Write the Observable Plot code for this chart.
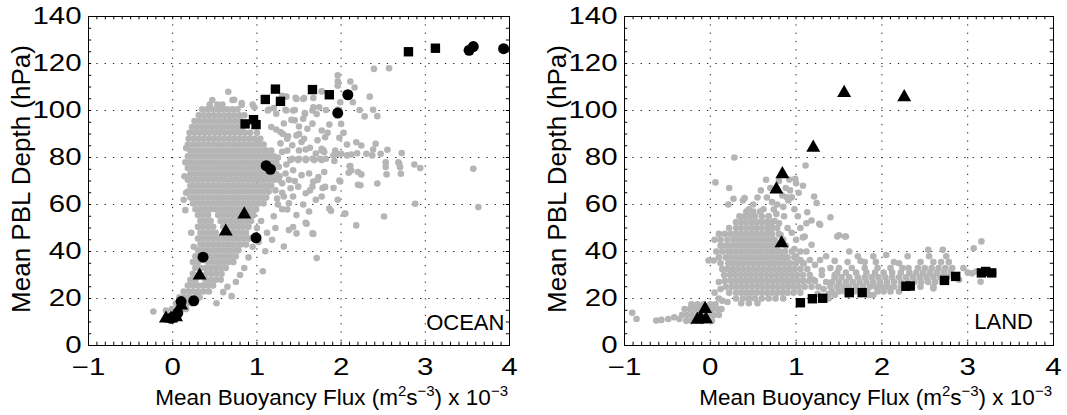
<!DOCTYPE html>
<html>
<head>
<meta charset="utf-8">
<script src="https://cdn.jsdelivr.net/npm/d3@7"></script>
<script src="https://cdn.jsdelivr.net/npm/@observablehq/plot@0.6"></script>
<style>
  body { margin: 0; background: #fff; }
  #c { display: flex; width: 1067px; height: 415px; overflow: hidden; }
  svg { display: block; }
</style>
</head>
<body>
<div id="c"></div>
<script>
// ---------- tick values ----------
const xMajor = [-1, 0, 1, 2, 3, 4];
const yMajor = [0, 20, 40, 60, 80, 100, 120, 140];
const xMinor = d3.range(-1, 4.001, 0.1);
const yMinor = d3.range(0, 140.1, 5);

// ---------- text ----------
const yLabelText = "Mean PBL Depth (hPa)";
const xLabelParts = [["Mean Buoyancy Flux (m", 0], ["2", 1], ["s", 0], ["\u22123", 1], [") x 10", 0], ["\u22123", 1]];
const regionNames = ["OCEAN", "LAND"];

// ---------- OCEAN: grey points, dense rows [y, [x...]] ----------
const oceanRows = [
  [104.5, [0.47, 0.71]],
  [102.5, [0.44, 0.53, 0.59, 0.82, 0.95]],
  [100.5, [0.35, 0.41, 0.47, 0.53, 0.59, 0.65, 0.71, 0.77]],
  [98, [0.31, 0.37, 0.43, 0.49, 0.55, 0.61, 0.67, 0.73, 0.79, 0.85]],
  [95.5, [0.26, 0.32, 0.38, 0.44, 0.5, 0.56, 0.62, 0.68, 0.74, 0.8]],
  [93, [0.23, 0.29, 0.35, 0.41, 0.47, 0.53, 0.59, 0.65, 0.71, 0.77, 0.83]],
  [90.5, [0.2, 0.26, 0.32, 0.38, 0.44, 0.5, 0.56, 0.62, 0.68, 0.74, 0.8, 0.86, 0.92, 1.0]],
  [88, [0.19, 0.25, 0.31, 0.37, 0.43, 0.49, 0.55, 0.61, 0.67, 0.73, 0.79, 0.85, 0.91, 0.97, 1.04]],
  [85.5, [0.18, 0.24, 0.3, 0.36, 0.42, 0.48, 0.54, 0.6, 0.66, 0.72, 0.78, 0.84, 0.9, 0.96, 1.02, 1.08]],
  [83, [0.21, 0.27, 0.33, 0.39, 0.45, 0.51, 0.57, 0.63, 0.69, 0.75, 0.81, 0.87, 0.93, 0.99, 1.05, 1.11, 1.17]],
  [80.5, [0.18, 0.24, 0.3, 0.36, 0.42, 0.48, 0.54, 0.6, 0.66, 0.72, 0.78, 0.84, 0.9, 0.96, 1.02, 1.08, 1.14, 1.2]],
  [78, [0.21, 0.27, 0.33, 0.39, 0.45, 0.51, 0.57, 0.63, 0.69, 0.75, 0.81, 0.87, 0.93, 0.99, 1.05, 1.11, 1.17, 1.23]],
  [75.5, [0.18, 0.24, 0.3, 0.36, 0.42, 0.48, 0.54, 0.6, 0.66, 0.72, 0.78, 0.84, 0.9, 0.96, 1.02, 1.08, 1.14, 1.2]],
  [73, [0.21, 0.27, 0.33, 0.39, 0.45, 0.51, 0.57, 0.63, 0.69, 0.75, 0.81, 0.87, 0.93, 0.99, 1.05, 1.11, 1.17, 1.23]],
  [70.5, [0.18, 0.24, 0.3, 0.36, 0.42, 0.48, 0.54, 0.6, 0.66, 0.72, 0.78, 0.84, 0.9, 0.96, 1.02, 1.08, 1.14, 1.2, 1.26]],
  [68, [0.21, 0.27, 0.33, 0.39, 0.45, 0.51, 0.57, 0.63, 0.69, 0.75, 0.81, 0.87, 0.93, 0.99, 1.05, 1.11, 1.17]],
  [65.5, [0.18, 0.24, 0.3, 0.36, 0.42, 0.48, 0.54, 0.6, 0.66, 0.72, 0.78, 0.84, 0.9, 0.96, 1.02, 1.08, 1.14]],
  [63, [0.21, 0.27, 0.33, 0.39, 0.45, 0.51, 0.57, 0.63, 0.69, 0.75, 0.81, 0.87, 0.93, 0.99, 1.05, 1.11]],
  [60.5, [0.24, 0.3, 0.36, 0.42, 0.48, 0.54, 0.6, 0.66, 0.72, 0.78, 0.84, 0.9, 0.96, 1.02, 1.08]],
  [58, [0.27, 0.33, 0.39, 0.45, 0.51, 0.57, 0.63, 0.69, 0.75, 0.81, 0.87, 0.93, 0.99]],
  [55.5, [0.3, 0.36, 0.42, 0.54, 0.6, 0.66, 0.72, 0.78, 0.9, 0.96]],
  [53, [0.33, 0.39, 0.45, 0.57, 0.63, 0.69, 0.75, 0.81, 0.87, 0.93]],
  [50.5, [0.3, 0.36, 0.42, 0.48, 0.6, 0.66, 0.72, 0.78, 0.84, 0.9]],
  [48, [0.33, 0.39, 0.45, 0.51, 0.69, 0.75, 0.81, 0.87]],
  [45.5, [0.3, 0.36, 0.42, 0.48, 0.54, 0.6, 0.66, 0.72, 0.78, 0.84, 0.9]],
  [43, [0.33, 0.39, 0.45, 0.51, 0.57, 0.63, 0.69, 0.75, 0.81, 0.87]],
  [40.5, [0.3, 0.36, 0.42, 0.48, 0.54, 0.6, 0.66, 0.72, 0.78]],
  [38, [0.27, 0.45, 0.51, 0.57, 0.63, 0.69, 0.75]],
  [35.5, [0.24, 0.3, 0.42, 0.48, 0.54, 0.6, 0.66, 0.72]],
  [33, [0.27, 0.33, 0.39, 0.45, 0.51, 0.57, 0.63]],
  [30.5, [0.24, 0.4, 0.46, 0.52, 0.58]],
  [28, [0.21, 0.27, 0.39, 0.45, 0.51, 0.57]],
  [25.5, [0.18, 0.24, 0.3, 0.36, 0.42, 0.48]],
  [23, [0.13, 0.19, 0.25, 0.31, 0.37, 0.43]],
  [20.5, [0.08, 0.14, 0.2, 0.32]],
  [18, [0.04, 0.16, 0.22]],
  [15.5, [-0.01, 0.05, 0.11, 0.16]],
  [13, [-0.05, 0.01, 0.07]]
];
// OCEAN: scattered grey points [x, y]
const oceanScatter = [
  [0.15, 78], [0.14, 72], [0.16, 65], [0.16, 84], [0.15, 57.6], [0.22, 48], [0.25, 42], [0.13, 62],
  [2.39, 117.7], [2.57, 118], [1.96, 115], [1.96, 112.4], [1.96, 110.5], [2.16, 109.8], [2.11, 112.3],
  [1.77, 108.1], [1.56, 105.3], [1.67, 105.3], [1.47, 104.9], [1.35, 105.9], [2.34, 105.9], [1.99, 103.5],
  [2.14, 103.5], [0.66, 108], [0.73, 104.6], [0.82, 103.2], [0.58, 101], [0.97, 101.4], [1.14, 100.4],
  [1.2, 101], [1.35, 100], [1.45, 100.2], [1.57, 98.5], [1.67, 101.4], [1.71, 98.5], [1.82, 100.2],
  [1.96, 100.4], [2.22, 100.2], [2.28, 97.5], [2.38, 100.3], [2.43, 97.6], [2.0, 94.3], [1.86, 94],
  [1.84, 90.5], [1.81, 88.6], [1.41, 96], [1.5, 93.2], [1.6, 92.2], [1.5, 90], [1.56, 88], [1.23, 91.9],
  [1.31, 90], [1.37, 89], [2.03, 90.5], [1.98, 88.4], [1.63, 84.1], [1.77, 83.7], [1.91, 80.9], [2.0, 81.6],
  [2.07, 85.5], [2.18, 86.5], [2.24, 85.1], [2.3, 81.6], [2.38, 83.4], [2.41, 85.8], [2.55, 83.3], [1.93, 83],
  [1.95, 81.6], [2.07, 80.9], [2.12, 81.3], [2.19, 81.8], [2.47, 81.6], [2.37, 80.9], [1.92, 78.5], [2.68, 78],
  [2.7, 75.9], [2.71, 73.1], [2.87, 77], [2.69, 77.3], [2.72, 81.9], [2.94, 75.5], [3.57, 75.2], [2.53, 78],
  [2.53, 76], [2.54, 72.8], [2.11, 76.4], [2.12, 74.5], [2.2, 73.8], [2.24, 72.8], [2.43, 68.9], [2.2, 68.4],
  [2.23, 68.2], [1.99, 69.8], [1.91, 67], [1.78, 67], [1.8, 73.8], [1.73, 71.7], [1.67, 69.8], [1.63, 66],
  [1.42, 79.5], [1.5, 79.5], [1.58, 79.5], [1.66, 79.5], [1.75, 79.5], [1.82, 79.5], [1.77, 83], [1.8, 82.3],
  [2.88, 60.3], [3.63, 58.9], [1.86, 58.3], [1.88, 57.3], [2.05, 56.2], [2.51, 54.9], [2.18, 51.1], [2.04, 56],
  [1.96, 62], [1.98, 70.2], [2.1, 76.3], [2.09, 73.5], [1.67, 47.5], [1.71, 37.2], [1.59, 51.8], [1.43, 50.4],
  [1.32, 42.1], [1.07, 31.6], [1.1, 40.1], [0.94, 45.8], [0.75, 27], [0.52, 18], [-0.23, 14.5], [-0.08, 14.9],
  [0.18, 18.4], [0.29, 21],
  [1.3, 106.3], [1.46, 105.4], [1.55, 104.9], [1.77, 108.2], [1.13, 100], [1.23, 98.6], [1.34, 100.3],
  [1.43, 100], [1.57, 98.9], [1.66, 100], [1.74, 101.4], [1.45, 95.8], [1.55, 96.5], [1.66, 94.4], [1.77, 91.5],
  [1.72, 87.3], [1.79, 83.1], [1.17, 93], [1.28, 90.8], [1.36, 88], [1.47, 89.4], [1.42, 85.2], [1.53, 86.6],
  [1.58, 83.4], [1.7, 81.7], [1.3, 82.4], [1.4, 78.9], [1.49, 78.9], [1.58, 78.9], [1.68, 78.9], [1.77, 78.9],
  [1.26, 76], [1.34, 73.2], [1.43, 74.6], [1.53, 72.5], [1.62, 73.2], [1.72, 70.4], [1.3, 69], [1.4, 66.9],
  [1.49, 67.6], [1.58, 64.8], [1.66, 67.6], [1.77, 63.4], [1.32, 63.4], [1.43, 63.4],
  [1.28, 86], [1.32, 94.5], [1.25, 80], [1.38, 70.5], [1.35, 77], [1.27, 72], [1.36, 83], [1.22, 66],
  [1.3, 65], [1.24, 62.5], [1.38, 60.5], [1.45, 70], [1.5, 83],
  [1.3, 58], [1.36, 57.9], [1.47, 55.5], [1.38, 49.1], [1.47, 47.7], [1.58, 52.2], [1.66, 47.7], [1.2, 55],
  [1.25, 60], [1.55, 60], [1.62, 57], [1.7, 62], [1.81, 67.5], [0.9, 37.5], [0.6, 22.7], [1.0, 50], [1.05, 53],
  [1.12, 48], [0.95, 42], [1.02, 44], [1.22, 50], [1.18, 45], [0.85, 33], [0.8, 30], [0.65, 25], [0.7, 21]
];
const oceanSquares = [[2.8, 125], [3.12, 126.5], [1.1, 104.7], [1.22, 109.1], [1.28, 103.9], [1.66, 108.9],
  [1.86, 106.7], [0.86, 94.3], [0.96, 96.1], [0.99, 94]];
const oceanCircles = [[3.52, 125.6], [3.57, 127.2], [3.93, 126.3], [2.08, 106.7], [1.96, 98.9], [1.11, 76.5],
  [1.16, 75], [0.99, 45.8], [0.36, 37.6], [0.25, 19], [0.1, 18.7], [0.06, 13.8], [0.02, 12.2], [-0.02, 11.6]];
const oceanTriangles = [[0.85, 55.8], [0.63, 48.5], [0.32, 29.8], [0.1, 17], [-0.08, 11.5], [-0.02, 11.5], [0.04, 12]];

// ---------- LAND: grey points ----------
const landRows = [
  [57, [0.42, 0.5, 0.58]],
  [55, [0.34, 0.4, 0.46, 0.52, 0.6, 0.68]],
  [52.5, [0.3, 0.36, 0.42, 0.48, 0.54, 0.6, 0.66, 0.72]],
  [50, [0.22, 0.3, 0.36, 0.42, 0.48, 0.54, 0.6, 0.66, 0.72, 0.78]],
  [47.5, [0.1, 0.17, 0.24, 0.3, 0.36, 0.42, 0.48, 0.54, 0.6, 0.66, 0.72, 0.8]],
  [45, [0.05, 0.12, 0.2, 0.27, 0.33, 0.39, 0.45, 0.51, 0.57, 0.63, 0.69, 0.75, 0.85]],
  [42.5, [0.12, 0.18, 0.24, 0.3, 0.36, 0.42, 0.48, 0.54, 0.6, 0.66, 0.72, 0.78, 0.88]],
  [40, [0.14, 0.21, 0.27, 0.33, 0.39, 0.45, 0.51, 0.57, 0.63, 0.69, 0.75, 0.81, 0.87, 0.95]],
  [37.5, [0.1, 0.18, 0.24, 0.3, 0.36, 0.42, 0.48, 0.54, 0.6, 0.66, 0.72, 0.78, 0.84, 0.9, 0.98]],
  [35, [0.12, 0.21, 0.27, 0.33, 0.39, 0.45, 0.51, 0.57, 0.63, 0.69, 0.75, 0.81, 0.87, 0.93, 1.0, 1.08]],
  [32.5, [0.14, 0.2, 0.26, 0.32, 0.38, 0.44, 0.5, 0.56, 0.62, 0.68, 0.74, 0.8, 0.86, 0.92, 0.98, 1.05, 1.13]],
  [30, [0.16, 0.23, 0.29, 0.35, 0.41, 0.47, 0.53, 0.59, 0.65, 0.71, 0.77, 0.83, 0.89, 0.95, 1.01, 1.08, 1.16]],
  [27.5, [0.17, 0.24, 0.3, 0.36, 0.42, 0.48, 0.54, 0.6, 0.66, 0.72, 0.78, 0.84, 0.9, 0.96, 1.02, 1.08, 1.15, 1.22]],
  [25, [0.18, 0.25, 0.31, 0.37, 0.43, 0.49, 0.55, 0.61, 0.67, 0.73, 0.79, 0.85, 0.91, 0.97, 1.03, 1.1, 1.18, 1.26]],
  [22.5, [0.22, 0.3, 0.36, 0.42, 0.48, 0.54, 0.6, 0.66, 0.72, 0.78, 0.84, 0.9, 0.97, 1.05]],
  [20, [0.3, 0.38, 0.45, 0.52, 0.6, 0.68, 0.76, 0.85]],
  [18, [0.36, 0.45, 0.55]],
  [17.5, [-0.22, -0.15, -0.08, 0.0, 0.06]],
  [15.5, [-0.3, -0.24, -0.18, -0.12, -0.05, 0.02, 0.08, 0.13]],
  [13, [-0.33, -0.27, -0.21, -0.15, -0.08, -0.02, 0.04, 0.1]],
  [10.5, [-0.28, -0.22, -0.16, -0.1, -0.04, 0.02]],
  // right-hand band
  [21.5, [1.45, 1.6, 1.85, 1.9]],
  [23, [1.42, 1.5, 1.57, 1.68, 1.83, 1.95, 2.02, 2.1, 2.2]],
  [25, [1.4, 1.48, 1.55, 1.62, 1.7, 1.78, 1.86, 1.93, 2.0, 2.07, 2.14, 2.22, 2.35, 2.45, 2.6]],
  [27, [1.42, 1.5, 1.58, 1.66, 1.74, 1.82, 1.9, 1.98, 2.06, 2.14, 2.22, 2.3, 2.38, 2.46, 2.54, 2.62, 2.7]],
  [29, [1.45, 1.53, 1.62, 1.72, 1.8, 1.88, 1.96, 2.04, 2.12, 2.2, 2.28, 2.36, 2.44, 2.52, 2.6, 2.68, 2.76, 2.84]],
  [31, [1.48, 1.58, 1.7, 1.82, 1.92, 2.02, 2.12, 2.22, 2.32, 2.4, 2.48, 2.56, 2.64, 2.72, 2.8]],
  [33, [1.5, 1.65, 1.8, 1.95, 2.1, 2.24, 2.31, 2.42, 2.5, 2.58, 2.66, 2.74, 2.82]],
  [35.5, [1.6, 1.8, 1.93, 2.14, 2.45, 2.6, 2.69, 2.78]],
  [38, [1.72, 2.3, 2.55, 2.75]]
];
const landScatter = [
  [-0.91, 13.9], [-0.86, 11.3], [-0.63, 10.6], [-0.57, 10.9], [-0.49, 11.3], [-0.42, 12], [-0.36, 11.3],
  [0.1, 20], [0.05, 22.5], [0.12, 24], [-0.02, 36.2], [0.04, 36.2], [0.07, 40], [0.1, 27], [0.14, 19], [0.2, 18.5],
  [0.28, 80], [0.06, 69.4], [0.22, 67], [0.27, 62.4], [0.21, 60], [0.4, 62.7], [0.38, 61.7], [0.65, 70.5],
  [0.59, 66], [0.72, 61], [0.74, 57.9], [0.77, 56], [0.92, 70.6], [0.99, 70.9], [1.0, 69], [0.84, 63.8],
  [0.89, 63.1], [0.91, 61.7], [0.95, 63.1], [1.11, 76.6], [1.08, 68], [1.21, 63.4], [1.24, 60.6], [1.13, 56.7],
  [1.4, 54.6], [1.27, 51.8], [1.48, 46.4], [1.58, 46.4], [1.18, 53.2],
  [0.62, 58], [0.68, 55], [0.8, 52], [0.86, 55], [0.9, 50], [0.95, 48], [0.82, 47], [0.7, 50], [0.98, 58],
  [1.02, 55], [1.05, 50], [0.66, 63], [0.78, 60], [0.85, 59], [0.7, 67], [0.75, 53], [0.88, 67], [0.93, 66],
  [1.03, 65], [0.8, 70], [0.45, 58], [0.5, 60], [0.55, 63], [0.6, 53], [1.0, 45], [1.08, 46], [0.98, 41],
  [1.05, 40], [1.0, 38], [1.12, 40], [1.1, 46.4], [1.18, 42.9], [1.12, 52], [1.28, 51.4],
  [1.05, 36.4], [1.09, 35], [1.16, 36.4], [1.22, 34.3], [1.28, 36.4], [1.3, 30], [1.35, 27], [1.32, 24],
  [1.38, 22], [1.25, 22], [1.3, 32], [1.4, 33], [1.45, 30], [1.38, 20], [1.2, 28], [1.35, 38], [1.45, 36],
  [1.5, 46.9], [1.57, 46.4], [1.62, 40], [1.9, 38], [2.05, 38.5], [2.2, 35], [1.75, 36],
  [2.54, 40.7], [2.71, 40.7], [2.6, 24.3], [3.05, 30.7], [3.15, 27.1], [3.3, 30.7], [3.07, 41.4],
  [3.16, 44.3], [3.0, 31], [2.95, 33], [2.9, 28], [3.1, 31.5]
];
const landTriangles = [[1.56, 107.5], [2.26, 105.7], [1.2, 84.2], [0.84, 72.9], [0.77, 66.4], [0.83, 43.5],
  [-0.06, 15.6], [-0.11, 11.6], [-0.05, 11.2], [-0.15, 11]];
const landSquares = [[1.05, 18.2], [1.19, 19.9], [1.31, 20.1], [1.62, 22.5], [1.77, 22.5], [2.28, 25.2],
  [2.33, 25.3], [2.73, 27.7], [2.86, 29.4], [3.16, 30.9], [3.21, 31.5], [3.28, 30.9]];

// ---------- drawing ----------
const FONT = "'Liberation Sans', Arial, Helvetica, sans-serif";
const toObj = a => a.map(([x, y]) => ({x, y}));

function panel(cfg) {
  const gray = [
    ...cfg.rows.flatMap(([y, xs]) => xs.map(x => ({x, y}))),
    ...toObj(cfg.scatter)
  ];
  const svg = Plot.plot({
    width: cfg.width, height: 415,
    marginLeft: cfg.ml, marginRight: cfg.mr, marginTop: 16, marginBottom: 70,
    style: {fontFamily: FONT, fontSize: "23px", color: "black", background: "white", overflow: "visible"},
    x: {domain: [-1, 4], label: null},
    y: {domain: [0, 140], label: null},
    marks: [
      Plot.gridX(xMajor, {stroke: "#222", strokeOpacity: 1, strokeDasharray: "1.3,7"}),
      Plot.gridY(yMajor, {stroke: "#222", strokeOpacity: 1, strokeDasharray: "1.3,7"}),
      Plot.dot(gray, {x: "x", y: "y", r: 3.3, fill: "#b5b5b5"}),
      Plot.dot(toObj(cfg.squares), {x: "x", y: "y", symbol: "square", r: 5.3, fill: "black"}),
      Plot.dot(toObj(cfg.circles), {x: "x", y: "y", r: 5.5, fill: "black"}),
      Plot.dot(toObj(cfg.triangles), {x: "x", y: "y", symbol: "triangle", r: 5.2, fill: "black"}),
      Plot.ruleX(xMinor, {y1: 0, y2: 1.4, stroke: "black"}),
      Plot.ruleX(xMinor, {y1: 138.6, y2: 140, stroke: "black"}),
      Plot.ruleY(yMinor, {x1: -1, x2: -0.962, stroke: "black"}),
      Plot.ruleY(yMinor, {x1: 3.962, x2: 4, stroke: "black"}),
      Plot.frame({stroke: "black"}),
      Plot.axisX(xMajor, {tickSize: 0, tickPadding: 13, fontSize: 23}),
      Plot.axisY(yMajor, {tickSize: 0, tickPadding: 7, fontSize: 23}),
      Plot.text([cfg.region], {x: cfg.regionX, y: cfg.regionY, text: d => d, textAnchor: "end",
        lineAnchor: "bottom", fontSize: 22, fill: "black"})
    ]
  });
  const s = d3.select(svg);
  // widen the tick numerals a little, as in the original figure
  s.selectAll('g[aria-label="x-axis tick label"] text, g[aria-label="y-axis tick label"] text')
    .attr("transform", function () {
      const t = this.getAttribute("transform") || "";
      return t + " scale(1.28,1)";
    });
  const frameRight = cfg.width - cfg.mr;
  const xl = s.append("text")
    .attr("x", frameRight - 1).attr("y", 405)
    .attr("text-anchor", "end").attr("font-family", FONT).attr("font-size", 22.5).attr("fill", "black");
  for (const [t, sup] of xLabelParts) {
    const ts = xl.append("tspan").text(t);
    if (sup) ts.attr("font-size", 15).attr("dy", -9.5);
    else ts.attr("dy", xl.selectAll("tspan").size() > 1 ? 9.5 : 0);
  }
  s.append("text")
    .attr("transform", `translate(${cfg.ml - 58},179) rotate(-90)`)
    .attr("text-anchor", "middle").attr("font-family", FONT).attr("font-size", 26).attr("fill", "black")
    .text(yLabelText);
  return svg;
}

const c = document.getElementById("c");
c.appendChild(panel({
  width: 540, ml: 88, mr: 31,
  rows: oceanRows, scatter: oceanScatter,
  squares: oceanSquares, circles: oceanCircles, triangles: oceanTriangles,
  region: regionNames[0], regionX: 3.94, regionY: 6.4
}));
c.appendChild(panel({
  width: 527, ml: 84, mr: 14,
  rows: landRows, scatter: landScatter,
  squares: landSquares, circles: [], triangles: landTriangles,
  region: regionNames[1], regionX: 3.76, regionY: 7.2
}));
</script>
</body>
</html>
